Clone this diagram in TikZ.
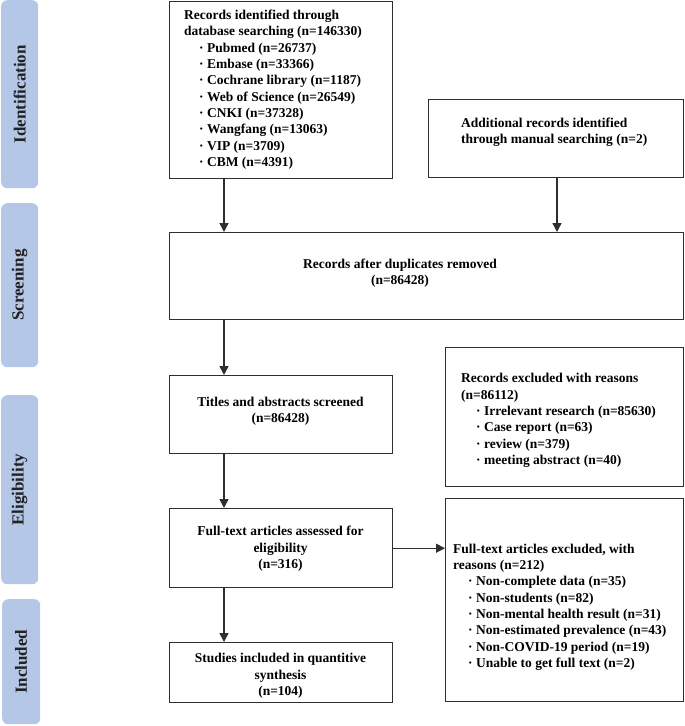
\documentclass[tikz,border=0pt]{standalone}
\usepackage{fontspec}
\setmainfont{Liberation Serif}
\usetikzlibrary{arrows.meta}
\definecolor{boxc}{HTML}{2E2E2E}
\definecolor{sidec}{HTML}{B4C7E7}
\definecolor{lblc}{HTML}{222222}
\tikzset{
  box/.style={draw=boxc, line width=1.4pt, inner sep=0pt, anchor=north west},
  txt/.style={font=\bfseries\fontsize{13.5}{16.35}\selectfont, inner sep=0pt, text=black},
  sidebar/.style={fill=sidec, rounded corners=6pt, anchor=north west, inner sep=0pt},
  sidelbl/.style={rotate=90, font=\bfseries\fontsize{17}{20}\selectfont, text=lblc, inner sep=0pt},
  arr/.style={draw=boxc, line width=1.4pt, -{Triangle[length=9pt,width=9pt]}}
}
\newcommand{\itm}{\hspace*{15pt}·\ }
\begin{document}
\begin{tikzpicture}[x=1pt,y=-1pt]
\useasboundingbox (0,0) rectangle (685,726);
% side bars
\node[sidebar, minimum width=37pt, minimum height=188pt] (s1) at (1,0) {};
\node[sidebar, minimum width=37pt, minimum height=164pt] (s2) at (1,203) {};
\node[sidebar, minimum width=37pt, minimum height=189pt] (s3) at (1,395) {};
\node[sidebar, minimum width=38pt, minimum height=125pt] (s4) at (2,599) {};
\node[sidelbl] (l1) at (s1.center) {Identification};
\node[sidelbl] (l2) at (s2.center) {Screening};
\node[sidelbl] (l3) at (s3.center) {Eligibility};
\node[sidelbl] (l4) at (s4.center) {Included};
% boxes
\node[box, minimum width=223pt, minimum height=177pt] (b1) at (169,1) {};
\node[box, minimum width=255pt, minimum height=78pt] (add) at (428,99) {};
\node[box, minimum width=514pt, minimum height=87pt] (dup) at (169,232) {};
\node[box, minimum width=223pt, minimum height=78pt] (tit) at (169,375) {};
\node[box, minimum width=238pt, minimum height=139pt] (rex) at (445,347) {};
\node[box, minimum width=223pt, minimum height=79pt] (fta) at (169,508) {};
\node[box, minimum width=238pt, minimum height=203pt] (fte) at (445,498) {};
\node[box, minimum width=223pt, minimum height=60pt] (stu) at (169,642) {};
% texts (anchored at the baseline of their last line)
\node[txt, anchor=base west, align=left] (t1) at (184,166.5) {Records identified through\\
database searching (n=146330)\\
\itm Pubmed (n=26737)\\
\itm Embase (n=33366)\\
\itm Cochrane library (n=1187)\\
\itm Web of Science (n=26549)\\
\itm CNKI (n=37328)\\
\itm Wangfang (n=13063)\\
\itm VIP (n=3709)\\
\itm CBM (n=4391)};
\node[txt, anchor=base west, align=left] (t2) at (461,143.5) {Additional records identified\\ through manual searching (n=2)};
\node[txt, anchor=base, align=center] (t3) at (400,284.5) {Records after duplicates removed\\ (n=86428)};
\node[txt, anchor=base, align=center] (t4) at (280.5,422.5) {Titles and abstracts screened\\ (n=86428)};
\node[txt, anchor=base west, align=left] (t5) at (461,464.5) {Records excluded with reasons\\
(n=86112)\\
\itm Irrelevant research (n=85630)\\
\itm Case report (n=63)\\
\itm review (n=379)\\
\itm meeting abstract (n=40)};
\node[txt, anchor=base, align=center] (t6) at (280.5,568.5) {Full-text articles assessed for\\ eligibility\\ (n=316)};
\node[txt, anchor=base west, align=left] (t7) at (453,667.5) {Full-text articles excluded, with\\
reasons (n=212)\\
\itm Non-complete data (n=35)\\
\itm Non-students (n=82)\\
\itm Non-mental health result (n=31)\\
\itm Non-estimated prevalence (n=43)\\
\itm Non-COVID-19 period (n=19)\\
\itm Unable to get full text (n=2)};
\node[txt, anchor=base, align=center] (t8) at (280.5,695.5) {Studies included in quantitive\\ synthesis\\ (n=104)};
% arrows
\coordinate (cl) at (224,0);
\coordinate (cr) at (557,0);
\draw[arr] (cl |- b1.south) -- (cl |- dup.north);
\draw[arr] (cr |- add.south) -- (cr |- dup.north);
\draw[arr] (cl |- dup.south) -- (cl |- tit.north);
\draw[arr] (cl |- tit.south) -- (cl |- fta.north);
\draw[arr] (cl |- fta.south) -- (cl |- stu.north);
\draw[arr] (fta.east) -- (fta.east -| fte.west);
\end{tikzpicture}
\end{document}
